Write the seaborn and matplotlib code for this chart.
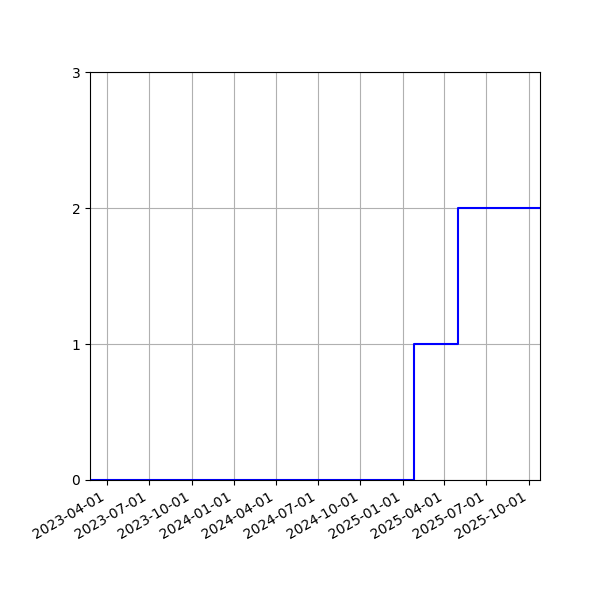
import pandas as pd
import numpy as np
import matplotlib
matplotlib.use("Agg")
import matplotlib.pyplot as plt
import matplotlib.dates as mdates
import seaborn as sns

# --- data ---
dates = ["2023-02-23", "2025-01-25", "2025-04-30", "2025-10-25"]
counts = [0, 1, 2, 2]
tick_dates = ["2023-04-01", "2023-07-01", "2023-10-01", "2024-01-01", "2024-04-01",
              "2024-07-01", "2024-10-01", "2025-01-01", "2025-04-01", "2025-07-01",
              "2025-10-01"]

df = pd.DataFrame({"date": pd.to_datetime(dates), "count": counts})

fig, ax = plt.subplots(figsize=(6, 6), dpi=100)
sns.lineplot(data=df, x="date", y="count", drawstyle="steps-post", color="blue",
             linewidth=1.5, ax=ax)

ax.set_xlim(df["date"].min(), df["date"].max())
ax.set_ylim(0, 3)
ax.set_yticks([0, 1, 2, 3])
ax.set_xticks(pd.to_datetime(tick_dates))
ax.xaxis.set_major_formatter(mdates.DateFormatter("%Y-%m-%d"))
ax.set_xlabel("")
ax.set_ylabel("")
ax.grid(True)
fig.autofmt_xdate()
fig.subplots_adjust(left=0.15, right=0.9, top=0.88, bottom=0.2)

fig.savefig("out.png", dpi=100)
